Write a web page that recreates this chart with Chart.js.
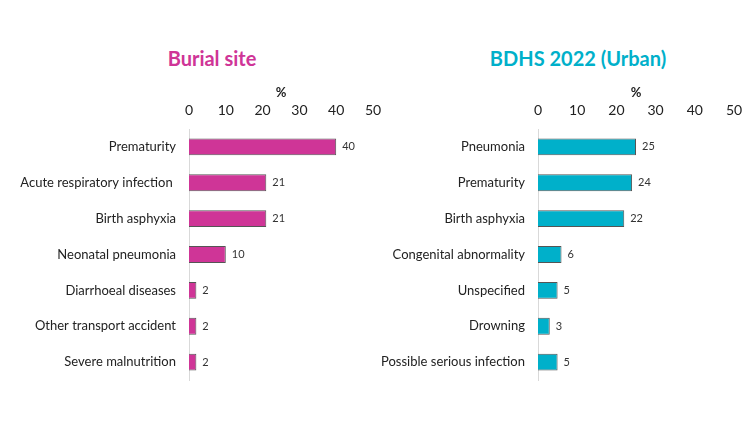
<!DOCTYPE html>
<html>
<head>
<meta charset="utf-8">
<script src="https://cdn.jsdelivr.net/npm/chart.js@4"></script>
<style>
    body { margin: 0; background: #fff; font-family: Lato, sans-serif; }
    #wrap { position: relative; width: 750px; height: 422px; }
    .title { position: absolute; top: 46px; font-weight: bold; font-size: 20px; white-space: nowrap; transform: translateX(-50%); }
    .box { position: absolute; top: 75px; height: 320px; }
</style>
</head>
<body>
<div id="wrap">
    <div class="title" style="left:212px; color:#CF3597;">Burial site</div>
    <div class="title" style="left:578px; color:#00B0CA;">BDHS 2022 (Urban)</div>
    <div class="box" style="left:0; width:392px;"><canvas id="burial"></canvas></div>
    <div class="box" style="left:370px; width:380px;"><canvas id="bdhs"></canvas></div>
</div>
<script>
const burialCauses = ['Prematurity', 'Acute respiratory infection ', 'Birth asphyxia', 'Neonatal pneumonia',
    'Diarrhoeal diseases', 'Other transport accident', 'Severe malnutrition'];
const burialValues = [40, 21, 21, 10, 2, 2, 2];

const bdhsCauses = ['Pneumonia', 'Prematurity', 'Birth asphyxia', 'Congenital abnormality',
    'Unspecified', 'Drowning', 'Possible serious infection'];
const bdhsValues = [25, 24, 22, 6, 5, 3, 5];

const xTicks = [0, 10, 20, 30, 40, 50];

// value labels at the end of each bar
const valueLabels = {
    id: 'valueLabels',
    afterDatasetsDraw(chart) {
        const ctx = chart.ctx;
        ctx.save();
        ctx.font = '11px Lato, sans-serif';
        ctx.fillStyle = '#333';
        ctx.textBaseline = 'middle';
        chart.getDatasetMeta(0).data.forEach((bar, i) => {
            ctx.fillText(chart.data.datasets[0].data[i], bar.x + 6, bar.y);
        });
        ctx.restore();
    }
};

function makeChart(id, labels, values, color, yWidth, rightPad) {
    return new Chart(document.getElementById(id), {
        type: 'bar',
        data: {
            labels: labels,
            datasets: [{
                data: values,
                backgroundColor: color,
                borderColor: '#555',
                borderWidth: 1,
                barPercentage: 0.47,
                categoryPercentage: 1
            }]
        },
        options: {
            indexAxis: 'y',
            responsive: true,
            maintainAspectRatio: false,
            animation: false,
            layout: { padding: { left: 0, right: rightPad, top: 10, bottom: 15 } },
            plugins: { legend: { display: false }, tooltip: { enabled: false } },
            scales: {
                x: {
                    position: 'top',
                    min: 0,
                    max: 50,
                    afterBuildTicks: scale => { scale.ticks = xTicks.map(v => ({ value: v })); },
                    grid: { display: false },
                    border: { display: false },
                    ticks: { color: '#222', font: { size: 14, family: 'Lato, sans-serif' }, padding: 2 },
                    title: { display: true, text: '%', color: '#222', font: { size: 13, weight: 'bold', family: 'Lato, sans-serif' }, padding: { top: 0, bottom: 0 } },
                    afterFit: scale => { scale.height = 44; }
                },
                y: {
                    grid: { display: false },
                    border: { display: true, color: '#d9d9d9' },
                    ticks: { color: '#222', font: { size: 13, family: 'Lato, sans-serif' }, padding: 5 },
                    afterFit: scale => { scale.width = yWidth; }
                }
            }
        },
        plugins: [valueLabels]
    });
}

makeChart('burial', burialCauses, burialValues, '#CF3597', 189, 19);
makeChart('bdhs', bdhsCauses, bdhsValues, '#00B0CA', 168, 16);
</script>
</body>
</html>
